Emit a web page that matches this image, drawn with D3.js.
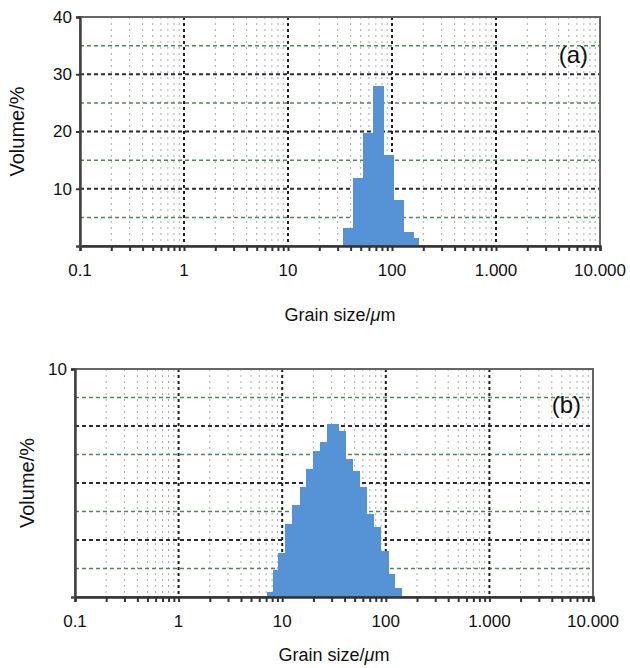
<!DOCTYPE html>
<html>
<head>
<meta charset="utf-8">
<script src="https://cdn.jsdelivr.net/npm/d3@7"></script>
<style>
  body { margin: 0; background: #fff; }
  svg text { font-family: "Liberation Sans", Arial, sans-serif; fill: #111; }
</style>
</head>
<body>
<div id="chart"></div>
<script>
// x axis (log, grain size in µm)
const xTickValues = [0.1, 1, 10, 100, 1000, 10000];
const xTickLabels = ["0.1", "1", "10", "100", "1.000", "10.000"];

// panel (a)
const binEdgesA = [33.6, 42.5, 53, 66, 82, 103, 128.5, 160, 178];
const volumeA = [3.1, 11.9, 19.8, 28.0, 15.9, 8.0, 2.4, 1.4];
const yTicksA = [10, 20, 30, 40];
const darkGridA = [10, 20, 30];
const greenGridA = [5, 15, 25, 35];

// panel (b)
const binEdgesB = [7.12, 8.13, 9.21, 10.7, 12.4, 14.9, 17.1, 19.7, 23.3, 27.2, 31.1,
  34.9, 40.6, 47.1, 55.7, 64.7, 75.5, 88.3, 104.3, 120.5, 139.3];
const volumeB = [0.2, 1.17, 1.94, 3.18, 4.03, 4.84, 5.6, 6.41, 6.79, 7.59, 7.59,
  7.3, 6.05, 5.53, 4.84, 3.65, 3.05, 2.0, 1.03, 0.38];
const yTicksB = [10];
const darkGridB = [2.5, 5, 7.5];
const greenGridB = [1.25, 3.75, 6.25, 8.75];

const svg = d3.select("#chart")
  .append("svg")
    .attr("width", 630)
    .attr("height", 668);

function drawPanel(p) {
  const x = d3.scaleLog().domain([0.1, 10000]).range([p.left, p.right]);
  const y = d3.scaleLinear().domain([0, p.yMax]).range([p.bottom, p.top]);
  const g = svg.append("g");

  // minor vertical grid
  const minor = x.ticks().filter(v => !xTickValues.includes(v));
  g.selectAll(".minor")
    .data(minor)
    .join("line")
      .attr("x1", d => x(d)).attr("x2", d => x(d))
      .attr("y1", p.top).attr("y2", p.bottom)
      .attr("stroke", "#aaa")
      .attr("stroke-width", 1)
      .attr("stroke-dasharray", "2,4");

  // horizontal grid
  g.selectAll(".green")
    .data(p.greenGrid)
    .join("line")
      .attr("x1", p.left).attr("x2", p.right)
      .attr("y1", d => y(d)).attr("y2", d => y(d))
      .attr("stroke", "#4c8a50")
      .attr("stroke-width", 1.5)
      .attr("stroke-dasharray", "4,3");

  g.selectAll(".dark")
    .data(p.darkGrid)
    .join("line")
      .attr("x1", p.left).attr("x2", p.right)
      .attr("y1", d => y(d)).attr("y2", d => y(d))
      .attr("stroke", "#2a2a3a")
      .attr("stroke-width", 2)
      .attr("stroke-dasharray", "4,3");

  // major vertical grid
  g.selectAll(".major")
    .data(xTickValues.slice(1, -1))
    .join("line")
      .attr("x1", d => x(d)).attr("x2", d => x(d))
      .attr("y1", p.top).attr("y2", p.bottom)
      .attr("stroke", "#1e1e1e")
      .attr("stroke-width", 2)
      .attr("stroke-dasharray", "3,3");

  // bars
  const bins = p.volume.map((v, i) => ({x0: p.edges[i], x1: p.edges[i + 1], v: v}));
  g.selectAll(".bar")
    .data(bins)
    .join("rect")
      .attr("x", d => x(d.x0))
      .attr("y", d => y(d.v))
      .attr("width", d => x(d.x1) - x(d.x0) + 1)
      .attr("height", d => p.bottom - y(d.v))
      .attr("fill", "#5592d6")
      .attr("shape-rendering", "crispEdges");

  // frame
  g.append("rect")
    .attr("x", p.left).attr("y", p.top)
    .attr("width", p.right - p.left).attr("height", p.bottom - p.top)
    .attr("fill", "none")
    .attr("stroke", "#666")
    .attr("stroke-width", 2);

  // x axis
  const xAxis = g.append("g")
    .attr("transform", "translate(0," + p.bottom + ")")
    .call(d3.axisBottom(x).tickValues(x.ticks()).tickSize(5).tickFormat(""));
  xAxis.select(".domain").attr("stroke", "#333").attr("stroke-width", 2.5);
  xAxis.selectAll(".tick line").attr("stroke", "#333").attr("stroke-width", 2);

  g.selectAll(".xlab")
    .data(xTickValues)
    .join("text")
      .attr("x", d => x(d))
      .attr("y", p.bottom + 30)
      .attr("text-anchor", "middle")
      .style("font-size", "17px")
      .text((d, i) => xTickLabels[i]);

  // y axis
  const yAxis = g.append("g")
    .attr("transform", "translate(" + p.left + ",0)")
    .call(d3.axisLeft(y).tickValues(p.yTicks).tickSize(4).tickPadding(4));
  yAxis.select(".domain").attr("stroke", "#444").attr("stroke-width", 2.5);
  yAxis.selectAll(".tick line").attr("stroke", "#333").attr("stroke-width", 2);
  yAxis.selectAll("text")
    .style("font-size", "17px")
    .style("font-family", "Liberation Sans, Arial, sans-serif")
    .attr("fill", "#111");

  svg.append("text")
    .attr("transform", "translate(" + p.yLabelX + "," + ((p.top + p.bottom) / 2) + ")rotate(-90)")
    .attr("text-anchor", "middle")
    .style("font-size", "20px")
    .text("Volume/%");

  const t = svg.append("text")
    .attr("x", (p.left + p.right) / 2)
    .attr("y", p.xLabelY)
    .attr("text-anchor", "middle")
    .style("font-size", "18px");
  t.append("tspan").text("Grain size/");
  t.append("tspan").style("font-style", "italic").text("\u03bc");
  t.append("tspan").text("m");

  svg.append("text")
    .attr("x", p.right - 12)
    .attr("y", p.tagY)
    .attr("text-anchor", "end")
    .style("font-size", "24px")
    .text(p.tag);
}

drawPanel({left: 80, right: 600, top: 17, bottom: 246, yMax: 40,
  edges: binEdgesA, volume: volumeA, yTicks: yTicksA,
  darkGrid: darkGridA, greenGrid: greenGridA,
  yLabelX: 24, xLabelY: 321, tag: "(a)", tagY: 63});

drawPanel({left: 75, right: 593, top: 369, bottom: 597, yMax: 10,
  edges: binEdgesB, volume: volumeB, yTicks: yTicksB,
  darkGrid: darkGridB, greenGrid: greenGridB,
  yLabelX: 34, xLabelY: 661, tag: "(b)", tagY: 413});
</script>
</body>
</html>
